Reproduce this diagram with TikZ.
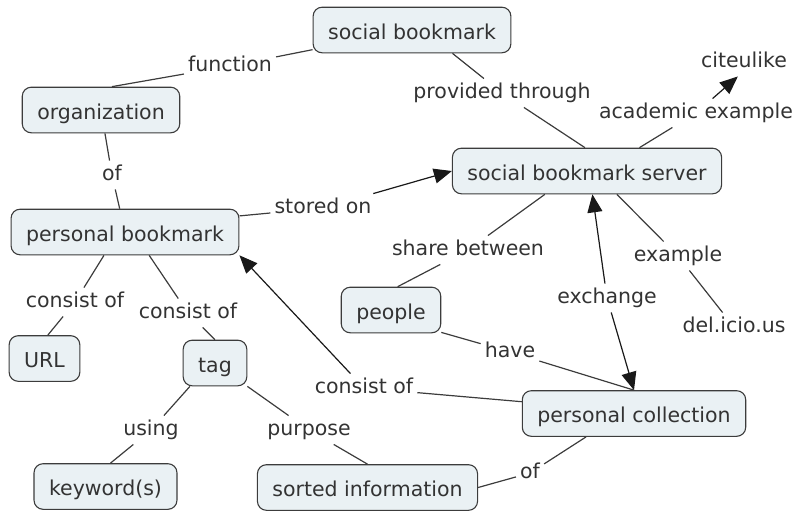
\documentclass[tikz,border=0pt]{standalone}
\usepackage{fontspec}
\setmainfont{DejaVu Sans}
\usetikzlibrary{arrows.meta}
\definecolor{mapfill}{HTML}{EAF1F4}
\definecolor{mapline}{HTML}{3C3C3C}
\definecolor{maptext}{HTML}{333333}

\begin{document}
\begin{tikzpicture}[
      x=1pt, y=-1pt,
      every node/.style={font=\fontsize{20.5}{24}\selectfont, text=maptext},
      concept/.style={draw=mapline, fill=mapfill, rounded corners=9pt,
                      line width=1.1pt, inner xsep=15pt, inner ysep=9.5pt,
                      text height=22.5pt, text depth=4.1pt},
      link/.style={inner sep=4pt, text height=15.6pt, text depth=4.9pt},
      conn/.style={mapline, line width=1.2pt},
      arr/.style={conn, black!90, -{Triangle[length=18pt, width=15pt]}},
    ]
    \useasboundingbox (0,0) rectangle (795,512);

    % Concepts (boxed)
    \node[concept] (sb)     at (412,30)      {social bookmark};
    \node[concept] (org)    at (101,110)     {organization};
    \node[concept] (pb)     at (125,232)     {personal bookmark};
    \node[concept] (srv)    at (587,171)     {social bookmark server};
    \node[concept] (people) at (391,310)     {people};
    \node[concept] (url)    at (44.5,358.5)  {URL};
    \node[concept] (tag)    at (215,363)     {tag};
    \node[concept] (pc)     at (634,413.5)   {personal collection};
    \node[concept] (kw)     at (105.5,486.5) {keyword(s)};
    \node[concept] (si)     at (367.5,487.5) {sorted information};

    % Concepts without a box
    \node[link] (cite)      at (744,62)  {citeulike};
    \node[link] (delicious) at (734,327) {del.icio.us};

    % Linking phrases
    \node[link] (function) at (230,66)  {function};
    \node[link] (of1)      at (112,175) {of};
    \node[link] (storedon) at (323,208) {stored on};
    \node[link] (provided) at (502,93)  {provided through};
    \node[link] (academic) at (696,113) {academic example};
    \node[link] (share)    at (468,250) {share between};
    \node[link] (example)  at (678,256) {example};
    \node[link] (exchange) at (607,298) {exchange};
    \node[link] (have)     at (510,352) {have};
    \node[link] (co3)      at (364,388) {consist of};
    \node[link] (of2)      at (530,473) {of};
    \node[link] (co1)      at (75,302)  {consist of};
    \node[link] (co2)      at (188,313) {consist of};
    \node[link] (using)    at (151,430) {using};
    \node[link] (purpose)  at (309,430) {purpose};

    % Connections — upper part
    \draw[conn] (org.65) -- (function);
    \draw[conn] (function) -- (sb);
    \draw[conn] (org) -- (of1);
    \draw[conn] (of1) -- (pb);
    \draw[conn] (pb.8) -- (storedon);
    \draw[arr]  (storedon) -- (srv.west);
    \draw[conn] (sb.-30) -- (provided);
    \draw[conn] (provided) -- (srv.95);
    \draw[conn] (srv.24) -- (academic);
    \draw[arr]  (academic) -- (cite.247);

    % Connections — around the server
    \draw[conn] (srv.209) -- (share);
    \draw[conn] (share) -- (people.74);
    \draw[conn] (srv.322) -- (example);
    \draw[conn] (example) -- (delicious);
    \draw[arr]  (exchange) -- (srv.283);
    \draw[arr]  (exchange) -- (pc.north);
    \draw[conn] (people.-24) -- (have);
    \draw[conn] (have) -- (pc.north);
    \draw[conn] (pc.174) -- (co3);
    \draw[arr]  (co3) -- (pb.south east);

    % Connections — lower part
    \draw[conn] (pb.228) -- (co1);
    \draw[conn] (co1) -- (url.82);
    \draw[conn] (pb.316) -- (co2);
    \draw[conn] (co2) -- (tag.north);
    \draw[conn] (tag.223) -- (using);
    \draw[conn] (using) -- (kw.78);
    \draw[conn] (tag.south east) -- (purpose);
    \draw[conn] (purpose) -- (si.north);
    \draw[conn] (pc.206) -- (of2);
    \draw[conn] (of2) -- (si.east);
  \end{tikzpicture}
\end{document}
